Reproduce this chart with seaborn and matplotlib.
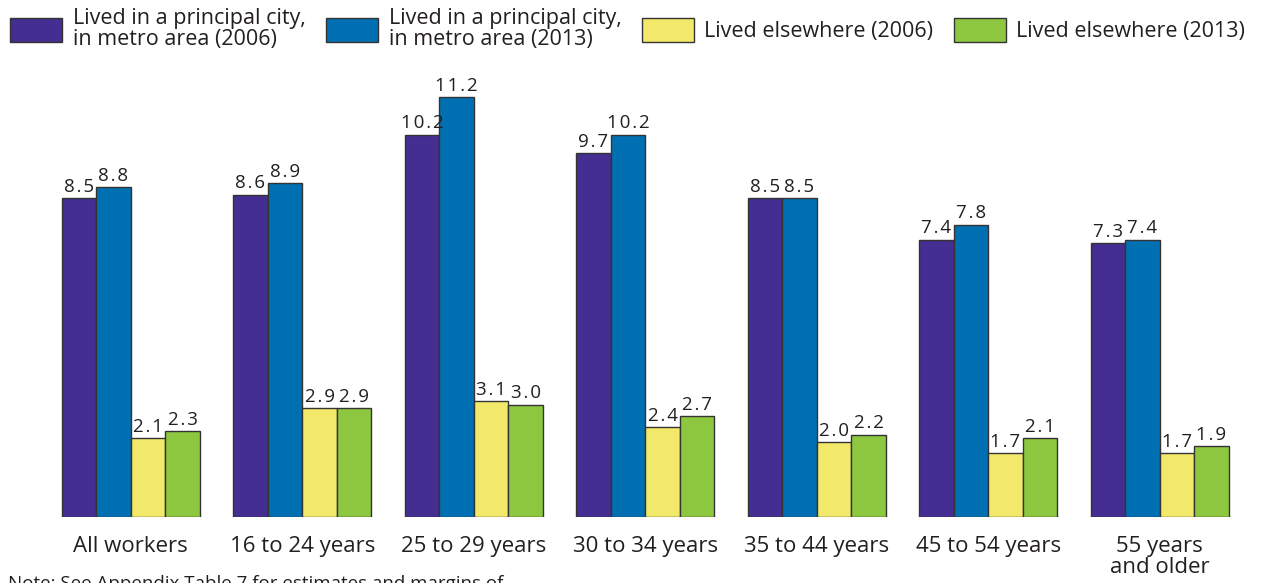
import matplotlib
matplotlib.use("Agg")
import matplotlib.pyplot as plt
import seaborn as sns
import pandas as pd
from matplotlib.patches import Patch

categories = ["All workers", "16 to 24 years", "25 to 29 years", "30 to 34 years",
              "35 to 44 years", "45 to 54 years", "55 years\nand older"]
series_names = ["Lived in a principal city,\nin metro area (2006)",
                "Lived in a principal city,\nin metro area (2013)",
                "Lived elsewhere (2006)",
                "Lived elsewhere (2013)"]
city_2006 = [8.5, 8.6, 10.2, 9.7, 8.5, 7.4, 7.3]
city_2013 = [8.8, 8.9, 11.2, 10.2, 8.5, 7.8, 7.4]
else_2006 = [2.1, 2.9, 3.1, 2.4, 2.0, 1.7, 1.7]
else_2013 = [2.3, 2.9, 3.0, 2.7, 2.2, 2.1, 1.9]
note = "Note: See Appendix Table 7 for estimates and margins of\nerror."

colors = ["#452E91", "#0070B3", "#F2E86A", "#8DC63F"]

rows = []
for name, vals in zip(series_names, [city_2006, city_2013, else_2006, else_2013]):
    for cat, v in zip(categories, vals):
        rows.append({"category": cat, "series": name, "value": v})
df = pd.DataFrame(rows)

sns.set_style("white")
plt.rcParams["font.family"] = ["Open Sans", "DejaVu Sans"]
text_color = "#231F20"

fig = plt.figure(figsize=(12.68, 5.83), dpi=100)
ax = fig.add_axes([45 / 1268, 66 / 583, 1200.5 / 1268, 457 / 583])

sns.barplot(data=df, x="category", y="value", hue="series", order=categories,
            hue_order=series_names, palette=colors, width=0.805,
            edgecolor="#333333", linewidth=1.0, saturation=1, legend=False, ax=ax)

# value labels with slightly loosened letter spacing
for cont in ax.containers:
    labels = ["\u200a".join(f"{v:.1f}") for v in cont.datavalues]
    ax.bar_label(cont, labels=labels, padding=1.5, fontsize=13.5, color=text_color)

ax.set_xlim(-0.5, 6.5)
ax.set_ylim(0, 457 / 37.5)
ax.set_xlabel("")
ax.set_ylabel("")
ax.set_yticks([])
ax.tick_params(axis="x", length=0, pad=14, labelsize=16, labelcolor=text_color)
for lbl in ax.get_xticklabels():
    lbl.set_linespacing(0.95)
for s in ax.spines.values():
    s.set_visible(False)

handles = [Patch(facecolor=c, edgecolor="#333333", linewidth=1.0) for c in colors]
leg = fig.legend(handles, series_names, loc="upper left", bbox_to_anchor=(4 / 1268, 1 - 2 / 583),
                 ncol=4, frameon=False, fontsize=15.5, handlelength=2.4, handleheight=1.35,
                 handletextpad=0.5, columnspacing=0.95, labelcolor=text_color,
                 borderaxespad=0, borderpad=0.3)
for t in leg.get_texts():
    t.set_linespacing(1.0)

fig.text(8 / 1268, 1 - 575 / 583, note, ha="left", va="top", fontsize=13.5,
         color=text_color, linespacing=1.1)

fig.savefig("out.png", dpi=100)
